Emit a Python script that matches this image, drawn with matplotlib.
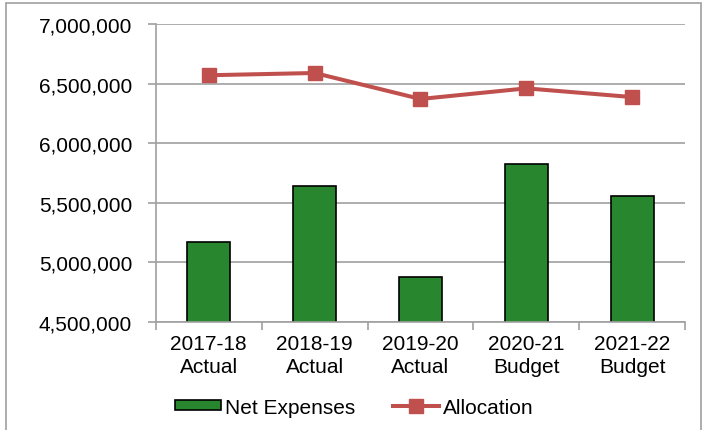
import matplotlib.pyplot as plt
import matplotlib.patches as mpatches
from matplotlib.lines import Line2D
from matplotlib.ticker import FuncFormatter, MultipleLocator
import numpy as np

plt.rcParams['font.family'] = ['Liberation Sans', 'DejaVu Sans']

categories = ["2017-18\nActual", "2018-19\nActual", "2019-20\nActual",
              "2020-21\nBudget", "2021-22\nBudget"]
net_expenses = [5174000, 5641000, 4880000, 5823000, 5554000]
allocation = [6570000, 6589000, 6371000, 6460000, 6387000]

green = "#28862E"
red = "#C0504D"
grid_col = "#A0A0A0"

fig = plt.figure(figsize=(7.02, 4.31), dpi=100)
ax = fig.add_axes([0.222, 0.2506, 0.754, 0.6914])

x = np.arange(len(categories))
ax.bar(x, net_expenses, width=0.41, color=green, edgecolor="black",
       linewidth=1.2, zorder=2)
ax.plot(x, allocation, color=red, linewidth=2.9, marker="s",
        markersize=10.5, zorder=3)

ax.set_xlim(-0.5, len(categories) - 0.5)
ax.set_ylim(4500000, 7000000)
ax.yaxis.set_major_locator(MultipleLocator(500000))
ax.yaxis.set_major_formatter(FuncFormatter(lambda v, p: f"{int(v):,}"))
ax.grid(axis="y", color=grid_col, linewidth=1.2, zorder=0)

ax.set_xticks(x)
ax.set_xticklabels(categories, fontsize=15, linespacing=1.25)
ax.set_xticks(np.arange(-0.5, len(categories)), minor=True)
ax.tick_params(axis="x", which="major", length=0, pad=9)
ax.tick_params(axis="x", which="minor", length=6, color=grid_col, width=1.2)
ax.tick_params(axis="y", labelsize=15, length=6, color=grid_col, width=1.2, pad=11)

for side in ["top", "right"]:
    ax.spines[side].set_visible(False)
for side in ["left", "bottom"]:
    ax.spines[side].set_color(grid_col)
    ax.spines[side].set_linewidth(1.2)

handles = [mpatches.Patch(facecolor=green, edgecolor="black", linewidth=1.2),
           Line2D([], [], color=red, linewidth=2.9, marker="s", markersize=10.5)]
fig.legend(handles, ["Net Expenses", "Allocation"], loc="center",
           bbox_to_anchor=(0.505, 0.053), ncol=2, frameon=False, fontsize=15,
           handlelength=2.2, handleheight=0.4, handletextpad=0.2,
           columnspacing=1.8)

# outer chart border
fig.add_artist(mpatches.Rectangle((0.009, -0.01), 0.99, 1.0, transform=fig.transFigure,
                                  fill=False, edgecolor=grid_col, linewidth=1.2))

fig.savefig("out.png", dpi=100)
